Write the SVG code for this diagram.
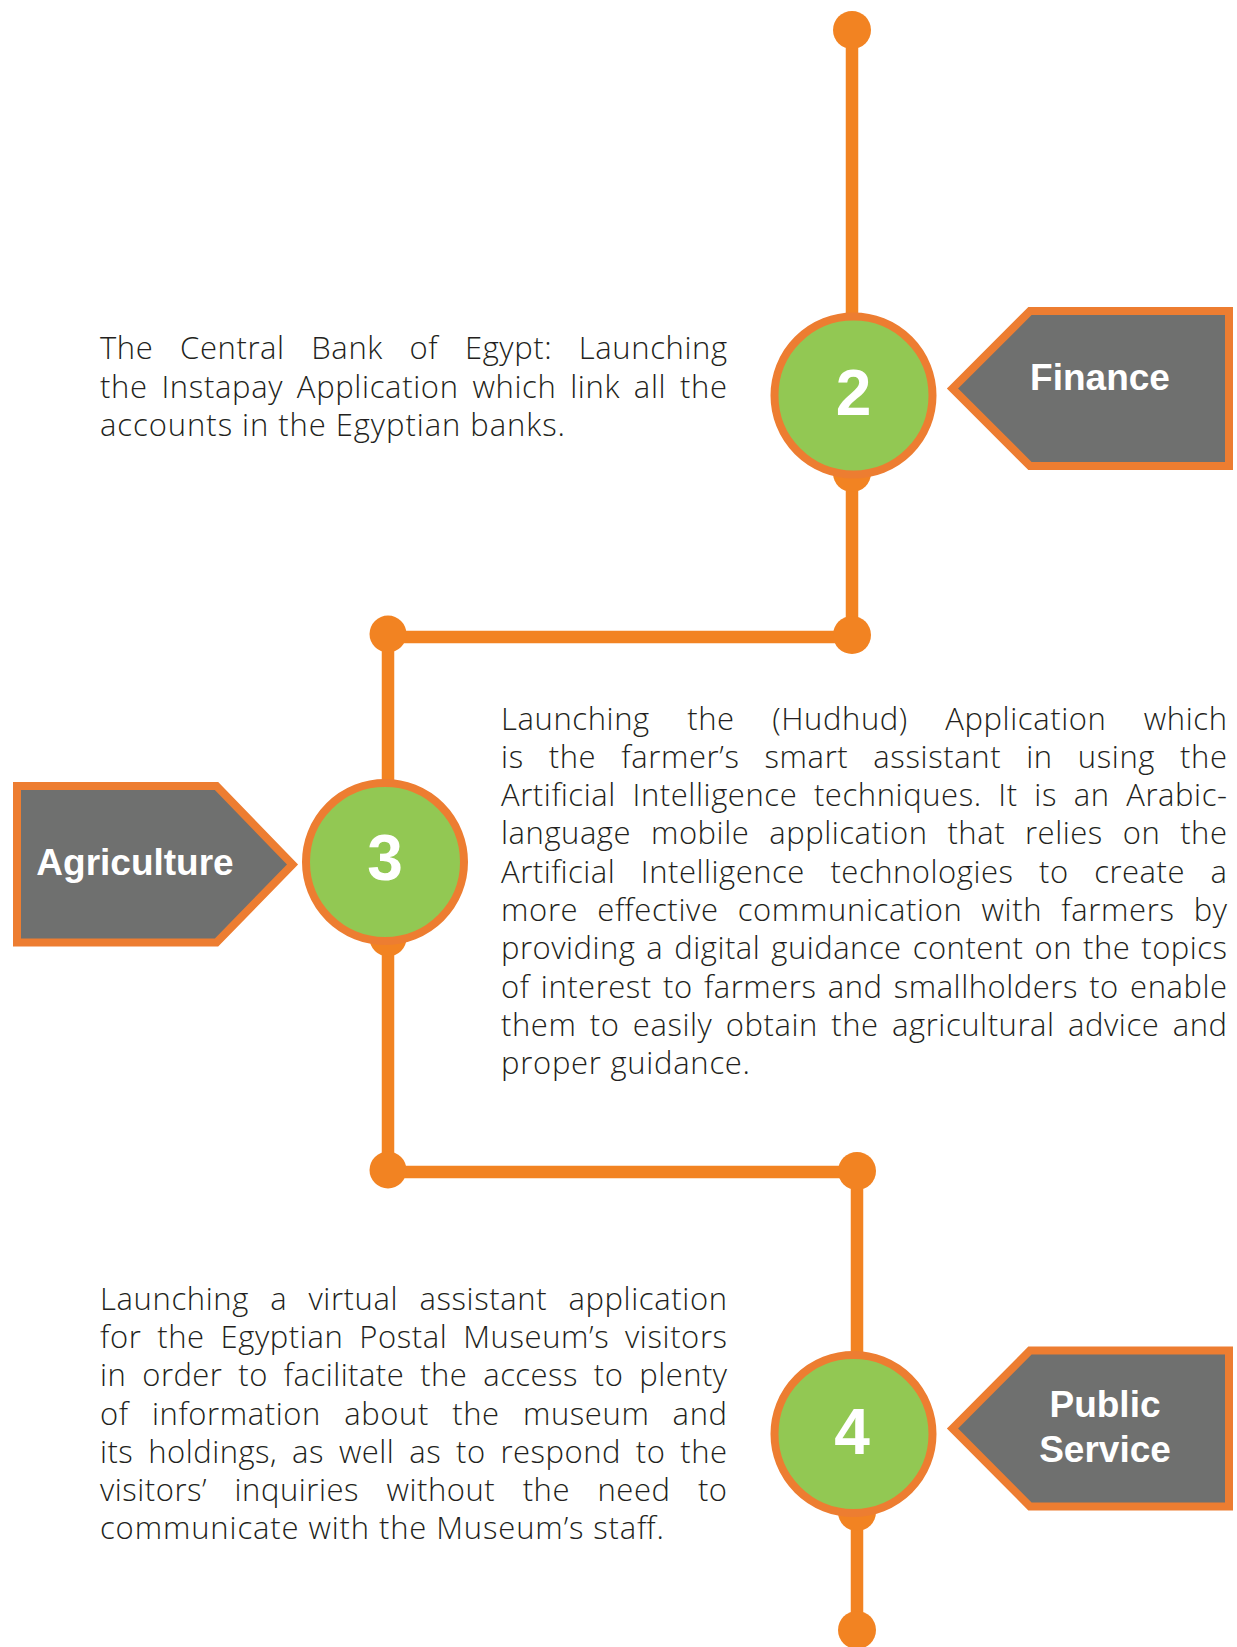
<svg xmlns="http://www.w3.org/2000/svg" width="1237" height="1647" viewBox="0 0 1237 1647">
<style>
.ln{fill:none;stroke:#f28322;stroke-width:12.5}
.dot{fill:#f28322}
.num{fill:#92c853;stroke:#ed7d31;stroke-width:8}
.numtxt{font-family:"Liberation Sans",Arial,sans-serif;font-weight:bold;font-size:64px;fill:#ffffff;text-anchor:middle}
.tag{fill:#6f706f;stroke:#ed7d31;stroke-width:8}
.tagtxt{font-family:"Liberation Sans",Arial,sans-serif;font-weight:bold;font-size:37px;fill:#ffffff;text-anchor:middle}
.body{font-family:"Open Sans","Liberation Sans",sans-serif;font-weight:300;font-size:31px;fill:#231f20}
</style>
<rect width="1237" height="1647" fill="#ffffff"/>
<g id="connectors">
<path class="ln" d="M852 30 V637 H388 V1172 H857 V1630"/>
<circle class="dot" cx="852" cy="30" r="19"/>
<circle class="dot" cx="852" cy="473" r="19"/>
<circle class="dot" cx="852" cy="635" r="19"/>
<circle class="dot" cx="388" cy="634" r="18.5"/>
<circle class="dot" cx="388" cy="938" r="18.5"/>
<circle class="dot" cx="388" cy="1170" r="18.5"/>
<circle class="dot" cx="857" cy="1171" r="19"/>
<circle class="dot" cx="857" cy="1512" r="19"/>
<circle class="dot" cx="857" cy="1630" r="19"/>
</g>
<g id="node-2">
<circle class="num" cx="853.5" cy="395.5" r="79"/>
<text class="numtxt" x="853.5" y="415">2</text>
</g>
<g id="tag-finance">
<path class="tag" d="M952.5 388.5 L1030 311 H1229 V466 H1030 Z"/>
<text class="tagtxt" x="1100" y="390">Finance</text>
</g>
<g id="text-finance">
<text class="body" x="100" y="358.5" word-spacing="18" textLength="627" lengthAdjust="spacing">The Central Bank of Egypt: Launching</text>
<text class="body" x="100" y="397.5" word-spacing="5" textLength="627" lengthAdjust="spacing">the Instapay Application which link all the</text>
<text class="body" x="100" y="435.5" textLength="465" lengthAdjust="spacing">accounts in the Egyptian banks.</text>
</g>
<g id="node-3">
<circle class="num" cx="385" cy="862" r="79"/>
<text class="numtxt" x="385" y="880">3</text>
</g>
<g id="tag-agriculture">
<path class="tag" d="M17 786 H216.5 L292.5 864.5 L216.5 942.5 H17 Z"/>
<text class="tagtxt" x="135" y="875">Agriculture</text>
</g>
<g id="text-agriculture">
<text class="body" x="501" y="729.5" word-spacing="28.8" textLength="726" lengthAdjust="spacing">Launching the (Hudhud) Application which</text>
<text class="body" x="501" y="767.5" word-spacing="16.3" textLength="726" lengthAdjust="spacing">is the farmer’s smart assistant in using the</text>
<text class="body" x="501" y="806" word-spacing="8" textLength="726" lengthAdjust="spacing">Artificial Intelligence techniques. It is an Arabic-</text>
<text class="body" x="501" y="844" word-spacing="11.3" textLength="726" lengthAdjust="spacing">language mobile application that relies on the</text>
<text class="body" x="501" y="882.5" word-spacing="17" textLength="726" lengthAdjust="spacing">Artificial Intelligence technologies to create a</text>
<text class="body" x="501" y="920.5" word-spacing="10.3" textLength="726" lengthAdjust="spacing">more effective communication with farmers by</text>
<text class="body" x="501" y="959" word-spacing="2.5" textLength="726" lengthAdjust="spacing">providing a digital guidance content on the topics</text>
<text class="body" x="501" y="997.5" word-spacing="2.7" textLength="726" lengthAdjust="spacing">of interest to farmers and smallholders to enable</text>
<text class="body" x="501" y="1036" word-spacing="4.8" textLength="726" lengthAdjust="spacing">them to easily obtain the agricultural advice and</text>
<text class="body" x="501" y="1074" textLength="249" lengthAdjust="spacing">proper guidance.</text>
</g>
<g id="node-4">
<circle class="num" cx="853.5" cy="1434" r="79"/>
<text class="numtxt" x="852" y="1454">4</text>
</g>
<g id="tag-public-service">
<path class="tag" d="M952.5 1428.5 L1030 1350.5 H1229 V1506.5 H1030 Z"/>
<text class="tagtxt" x="1105" y="1417">Public</text>
<text class="tagtxt" x="1105" y="1462">Service</text>
</g>
<g id="text-public-service">
<text class="body" x="100" y="1310" word-spacing="12.5" textLength="627" lengthAdjust="spacing">Launching a virtual assistant application</text>
<text class="body" x="100" y="1348" word-spacing="7.2" textLength="627" lengthAdjust="spacing">for the Egyptian Postal Museum’s visitors</text>
<text class="body" x="100" y="1386" word-spacing="7.5" textLength="627" lengthAdjust="spacing">in order to facilitate the access to plenty</text>
<text class="body" x="100" y="1424.5" word-spacing="14.6" textLength="627" lengthAdjust="spacing">of information about the museum and</text>
<text class="body" x="100" y="1462.5" word-spacing="6.4" textLength="627" lengthAdjust="spacing">its holdings, as well as to respond to the</text>
<text class="body" x="100" y="1501" word-spacing="18.9" textLength="627" lengthAdjust="spacing">visitors’ inquiries without the need to</text>
<text class="body" x="100" y="1539" textLength="564" lengthAdjust="spacing">communicate with the Museum’s staff.</text>
</g>
</svg>
